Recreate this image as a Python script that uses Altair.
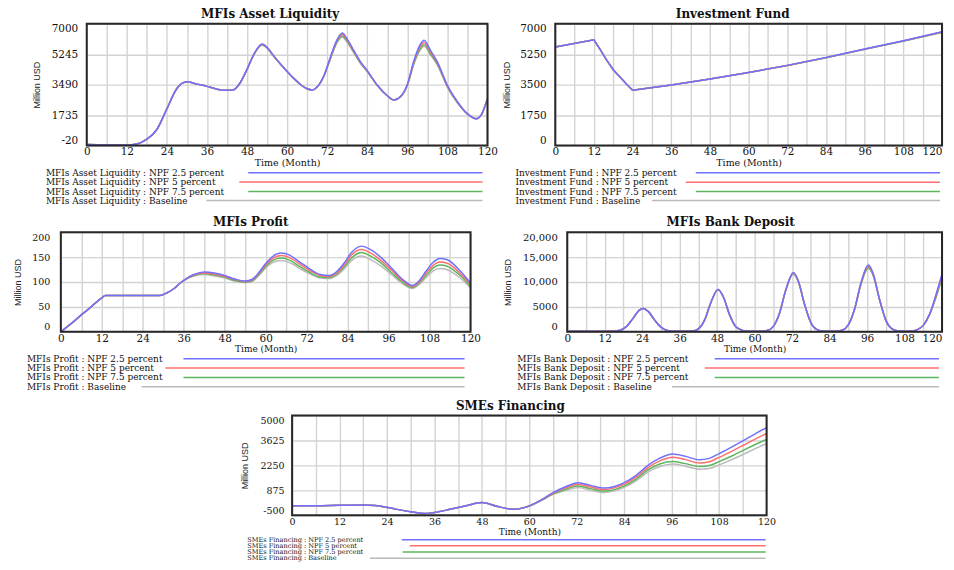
import altair as alt
import pandas as pd

SERIES = ["NPF 2.5 percent", "NPF 5 percent", "NPF 7.5 percent", "Baseline"]
COLORS = ["#7070ff", "#ff6e6e", "#5cb65c", "#bababa"]
SERIF = "DejaVu Serif"
NARROW = "Liberation Sans Narrow, Liberation Sans, sans-serif"
X_TICKS = list(range(0, 121, 6))

# ---------------- MFIs Asset Liquidity ----------------
liq_time = [0, 6, 12, 15, 18, 21, 24, 27, 30, 33, 36, 39, 42, 44, 46, 48, 50, 52.5, 54, 56,
            58, 60, 62, 64, 66, 67.5, 69, 71, 73, 75, 76.5, 78, 80, 82, 84, 87, 90, 92, 94, 96,
            98, 100, 101, 103, 105, 108, 111, 114, 116.7, 118, 120]
liq_npf25 = [30, 10, 0, 60, 340, 900, 2100, 3270, 3650, 3520, 3390, 3230, 3160, 3200, 3615, 4374, 5230, 5830, 5650, 5150,
             4680, 4250, 3850, 3500, 3250, 3180, 3350, 4000, 5100, 6100, 6470, 6120, 5450, 4800, 4300, 3450, 2850, 2600, 2800, 3500,
             4900, 5850, 6050, 5450, 4800, 3450, 2500, 1800, 1520, 1700, 2660]
liq_npf5 = [30, 10, 0, 60, 340, 900, 2100, 3270, 3650, 3520, 3390, 3230, 3160, 3200, 3615, 4374, 5220, 5810, 5630, 5140,
            4680, 4250, 3850, 3500, 3250, 3180, 3350, 3990, 5060, 6040, 6380, 6050, 5400, 4770, 4280, 3450, 2850, 2600, 2800, 3480,
            4820, 5730, 5920, 5350, 4730, 3410, 2480, 1800, 1520, 1700, 2660]
liq_npf75 = [30, 10, 0, 60, 340, 900, 2100, 3270, 3650, 3520, 3390, 3230, 3160, 3200, 3615, 4374, 5210, 5790, 5610, 5130,
             4680, 4250, 3850, 3500, 3250, 3180, 3350, 3980, 5020, 5980, 6300, 5990, 5360, 4740, 4260, 3450, 2850, 2600, 2800, 3460,
             4750, 5620, 5800, 5260, 4670, 3380, 2460, 1800, 1520, 1700, 2660]
liq_base = [30, 10, 0, 60, 340, 900, 2100, 3270, 3650, 3520, 3390, 3230, 3160, 3200, 3615, 4374, 5200, 5770, 5590, 5120,
            4680, 4250, 3850, 3500, 3250, 3180, 3350, 3970, 4990, 5930, 6230, 5930, 5320, 4710, 4240, 3450, 2850, 2600, 2800, 3440,
            4690, 5530, 5700, 5190, 4620, 3350, 2440, 1800, 1520, 1700, 2660]
liq_ticks = [-20, 1735, 3490, 5245, 7000]

# ---------------- Investment Fund ----------------
inv_time = [0, 12, 14, 16, 18, 20, 22, 24, 36, 48, 60, 72, 84, 96, 108, 120]
inv_npf25 = [5665, 6084, 5500, 4900, 4360, 3950, 3550, 3174, 3480, 3829, 4200, 4609, 5060, 5551, 6030, 6540]
inv_npf5 = [5665, 6084, 5500, 4900, 4360, 3950, 3550, 3174, 3480, 3829, 4200, 4605, 5055, 5545, 6020, 6525]
inv_npf75 = [5665, 6084, 5500, 4900, 4360, 3950, 3550, 3174, 3480, 3829, 4200, 4600, 5050, 5540, 6010, 6510]
inv_base = [5665, 6084, 5500, 4900, 4360, 3950, 3550, 3174, 3480, 3829, 4200, 4595, 5045, 5535, 6000, 6495]
inv_ticks = [0, 1750, 3500, 5250, 7000]

# ---------------- MFIs Profit ----------------
prof_time = [0, 2, 4, 6, 8, 10, 12, 13, 18, 24, 29, 31, 33, 35, 37, 39, 42, 45, 48, 51, 54, 56, 58, 60,
             62, 64.5, 67, 70, 73, 76, 78.5, 81, 83, 85, 88, 91, 94, 97, 100, 103, 105, 107, 109, 111,
             113, 115, 117, 120]
prof_npf25 = [0, 11, 22, 34, 45, 57, 68, 73, 73, 73, 73, 78, 86, 98, 108, 115, 120, 118, 113, 106, 102, 105, 119, 137,
              151, 158, 154, 140, 126, 115, 113, 122, 138, 158, 172, 164, 148, 127, 106, 93, 103, 122, 139, 147,
              145, 136, 122, 98]
prof_npf5 = [0, 11, 22, 34, 45, 57, 68, 73, 73, 73, 73, 78, 86, 98, 108, 114, 118, 116, 111, 105, 101, 104, 117, 134,
             147, 153, 149, 136, 123, 113, 111, 119, 134, 153, 165, 157, 142, 123, 103, 91, 100, 118, 133, 140,
             138, 130, 117, 95]
prof_npf75 = [0, 11, 22, 34, 45, 57, 68, 73, 73, 73, 73, 78, 86, 98, 107, 113, 117, 114, 110, 103, 100, 102, 115, 131,
              143, 148, 144, 131, 119, 110, 109, 117, 130, 147, 159, 151, 137, 118, 100, 89, 98, 113, 128, 134,
              132, 124, 113, 91]
prof_base = [0, 11, 22, 34, 45, 57, 68, 73, 73, 73, 73, 78, 86, 98, 107, 112, 115, 112, 108, 102, 99, 101, 113, 128,
             139, 143, 139, 127, 116, 108, 107, 114, 126, 142, 152, 144, 131, 114, 97, 87, 95, 109, 122, 127,
             125, 118, 108, 88]
prof_ticks = [0, 50, 100, 150, 200]

# ---------------- MFIs Bank Deposit ----------------
dep_time = [0, 10, 14, 17, 19, 21, 23, 24.3, 26, 28, 30, 32, 34, 38, 40, 42, 44, 46, 48.3, 50,
            52, 54, 56, 58, 60, 62, 64, 66, 68, 70, 72.4, 74, 76, 78, 80, 82, 84, 86, 88, 90,
            92, 94, 96.4, 98, 100, 102, 104, 106, 108, 110, 112, 114, 116, 118, 120]
dep_npf25 = [100, 100, 120, 350, 1100, 2650, 4300, 4700, 4050, 2350, 950, 300, 130, 100, 150, 600, 2400, 5900, 8500, 7000,
             3400, 1000, 300, 120, 100, 110, 250, 1100, 3800, 8450, 11900, 10200, 5500, 1850, 450, 150, 100, 120, 330, 1400,
             4550, 9700, 13400, 11600, 6500, 2350, 600, 180, 100, 150, 400, 1300, 3500, 7300, 11600]
dep_npf5 = [100, 100, 120, 350, 1100, 2650, 4300, 4700, 4050, 2350, 950, 300, 130, 100, 150, 600, 2400, 5900, 8500, 7000,
            3400, 1000, 300, 120, 100, 110, 250, 1100, 3800, 8450, 11800, 10150, 5500, 1850, 450, 150, 100, 120, 330, 1400,
            4550, 9650, 13150, 11450, 6500, 2350, 600, 180, 100, 150, 400, 1300, 3500, 7100, 11300]
dep_npf75 = [100, 100, 120, 350, 1100, 2650, 4300, 4700, 4050, 2350, 950, 300, 130, 100, 150, 600, 2400, 5900, 8500, 7000,
             3400, 1000, 300, 120, 100, 110, 250, 1100, 3800, 8400, 11650, 10100, 5500, 1850, 450, 150, 100, 120, 330, 1400,
             4550, 9500, 12850, 11300, 6500, 2350, 600, 180, 100, 150, 400, 1300, 3500, 6800, 10800]
dep_base = [100, 100, 120, 350, 1100, 2650, 4300, 4700, 4050, 2350, 950, 300, 130, 100, 150, 600, 2400, 5900, 8500, 7000,
            3400, 1000, 300, 120, 100, 110, 250, 1100, 3800, 8400, 11550, 10050, 5500, 1850, 450, 150, 100, 120, 330, 1400,
            4550, 9450, 12700, 11200, 6500, 2350, 600, 180, 100, 150, 400, 1300, 3500, 6900, 10900]
dep_ticks = [0, 5000, 10000, 15000, 20000]

# ---------------- SMEs Financing ----------------
sme_time = [0, 6, 12, 18, 21, 23.5, 26, 30, 33.5, 37, 40, 44, 48, 52, 56, 60, 63, 66, 69, 72.4,
            75.5, 79, 84, 87, 90, 93, 96.3, 99.5, 103, 105.5, 108, 111.5, 114, 117, 120]
sme_npf25 = [20, 25, 50, 70, 40, -40, -150, -310, -405, -310, -170, 20, 200, -20, -170, 20, 350, 750, 1060, 1300,
             1150, 1000, 1300, 1700, 2250, 2650, 2880, 2750, 2560, 2640, 2900, 3300, 3600, 3980, 4340]
sme_npf5 = [20, 25, 50, 70, 40, -40, -150, -310, -405, -310, -170, 20, 200, -20, -170, 17, 337, 717, 995, 1210,
            1060, 920, 1215, 1600, 2130, 2500, 2700, 2570, 2385, 2455, 2695, 3070, 3350, 3690, 4010]
sme_npf75 = [20, 25, 50, 70, 40, -40, -150, -310, -405, -310, -170, 20, 200, -20, -170, 13, 322, 680, 925, 1120,
             970, 835, 1125, 1500, 2000, 2330, 2460, 2350, 2190, 2240, 2460, 2800, 3070, 3390, 3680]
sme_base = [20, 25, 50, 70, 40, -40, -150, -310, -405, -310, -170, 20, 200, -20, -170, 10, 310, 650, 860, 1025,
            880, 760, 1040, 1400, 1880, 2190, 2330, 2210, 2040, 2080, 2280, 2600, 2850, 3160, 3460]
sme_ticks = [-500, 875, 2250, 3625, 5000]


def panel(name, time, values, ticks, w, h, cfg):
    x_axis_kw = dict(
        values=X_TICKS, format="d",
        labelExpr="datum.value % 12 === 0 ? datum.label : ''",
        grid=True, gridColor="#d3d3d3", gridWidth=1.4,
        domain=False, ticks=False, tickSize=0,
        labelPadding=cfg["xpad"], labelFont=SERIF, labelFontSize=cfg["xfs"],
        labelColor="#111", labelOverlap=False, labelFlush=False,
        title="Time (Month)", titleFont=SERIF, titleFontSize=cfg["xtfs"],
        titleFontWeight="normal", titleColor="#111",
        titleBaseline="middle", titleY=cfg["xty"],
    )
    if cfg.get("lastright"):
        x_axis_kw["labelAlign"] = {"condition": {"test": "datum.value === 120", "value": "right"},
                                   "value": "center"}
    x_enc = alt.X(
        "t:Q",
        scale=alt.Scale(domain=[0, 120], nice=False, zero=False),
        axis=alt.Axis(**x_axis_kw),
    )
    y_axis_kw = dict(
        values=ticks, grid=True, gridColor="#d3d3d3", gridWidth=1.4,
        domain=False, ticks=False, tickSize=0,
        labelPadding=cfg["ypad"], labelFont=SERIF, labelFontSize=cfg["yfs"],
        labelColor="#111", labelFlush=True, labelOverlap=False,
        labelExpr=cfg.get("yexpr", "'' + datum.value"),
        title="Million USD", titleFont=NARROW, titleFontSize=9,
        titleFontWeight="normal", titleColor="#222", titleAngle=270,
        titleAlign="center", titleBaseline="middle",
        titleX=cfg["ytx"], titleY=h / 2,
    )
    y_enc = alt.Y(
        "v:Q",
        scale=alt.Scale(domain=[ticks[0], ticks[-1]], nice=False, zero=False),
        axis=alt.Axis(**y_axis_kw),
    )

    layers = []
    for i in [3, 2, 1, 0]:
        df = pd.DataFrame({"t": time, "v": values[i]})
        layers.append(
            alt.Chart(df).mark_line(color=COLORS[i], strokeWidth=1.5, interpolate=cfg["interp"])
            .encode(x=x_enc, y=y_enc)
        )

    frame = alt.Chart(pd.DataFrame({"k": [0]})).mark_rect(
        fill="transparent", stroke="#272727", strokeWidth=2
    ).encode(x=alt.value(0), x2=alt.value(w), y=alt.value(0), y2=alt.value(h))

    legend = []
    for i, s in enumerate(SERIES):
        yy = h + cfg["rows"][i]
        label = pd.DataFrame({"label": [f"{name} : {s}"]})
        legend.append(
            alt.Chart(label).mark_text(
                align="left", baseline="middle", font=SERIF, fontSize=cfg["lfs"], color="#111"
            ).encode(text="label:N", x=alt.value(cfg["lx"]), y=alt.value(yy))
        )
        legend.append(
            alt.Chart(label).mark_rule(color=COLORS[i], strokeWidth=1.5)
            .encode(x=alt.value(cfg["starts"][i]), x2=alt.value(cfg["end"]), y=alt.value(yy))
        )

    return alt.layer(*layers, frame, *legend).properties(
        width=w, height=h,
        title=alt.TitleParams(
            text=name, font=SERIF, fontSize=12, fontWeight="bold", color="#111",
            anchor="middle", frame="group", dx=cfg["tdx"], offset=2,
        ),
    )


def spacer(w):
    return alt.Chart(pd.DataFrame({"k": [0]})).mark_text(text="").encode(
        x=alt.value(0), y=alt.value(0)
    ).properties(width=w, height=1,
                 view=alt.ViewBackground(strokeOpacity=0, strokeWidth=0, fillOpacity=0))


p1 = panel("MFIs Asset Liquidity", liq_time, [liq_npf25, liq_npf5, liq_npf75, liq_base], liq_ticks, 402, 122,
           dict(xpad=1.5, xfs=10.5, xtfs=9.5, xty=17, ypad=9, yfs=10.5, ytx=-50, interp="monotone",
                rows=[27.3, 36.7, 46.3, 55.3], lx=-41, starts=[162, 153, 162, 120], end=397, lfs=9, tdx=-17))
p2 = panel("Investment Fund", inv_time, [inv_npf25, inv_npf5, inv_npf75, inv_base], inv_ticks, 388, 122,
           dict(xpad=1.5, xfs=10.5, xtfs=9.5, xty=17, ypad=9, yfs=10.5, ytx=-49, interp="linear", lastright=True,
                rows=[27.3, 37, 46.3, 55.3], lx=-40, starts=[141, 131, 141, 97], end=386, lfs=9, tdx=-16))
p3 = panel("MFIs Profit", prof_time, [prof_npf25, prof_npf5, prof_npf75, prof_base], prof_ticks, 411, 100,
           dict(xpad=1.5, xfs=10.5, xtfs=9, xty=17, ypad=11, yfs=9.5, ytx=-43, interp="monotone",
                rows=[27, 36.3, 45.7, 55], lx=-34, starts=[123, 105, 123, 81], end=405, lfs=9, tdx=-15))
p4 = panel("MFIs Bank Deposit", dep_time, [dep_npf25, dep_npf5, dep_npf75, dep_base], dep_ticks, 376, 100,
           dict(xpad=1.5, xfs=10.5, xtfs=9, xty=17, ypad=10, yfs=10, ytx=-60, interp="monotone", lastright=True,
                yexpr="datum.value >= 10000 ? format(datum.value, ',d') : '' + datum.value",
                rows=[27, 36.3, 45.7, 55], lx=-50, starts=[148, 138, 148, 105], end=373, lfs=9, tdx=-24))
p5 = panel("SMEs Financing", sme_time, [sme_npf25, sme_npf5, sme_npf75, sme_base], sme_ticks, 476, 100,
           dict(xpad=1.5, xfs=9.5, xtfs=9, xty=16.5, ypad=8, yfs=9.5, ytx=-48, interp="monotone",
                rows=[24.5, 30.7, 36.9, 43.1], lx=-45, starts=[110, 118, 111, 78], end=475, lfs=6.6, tdx=-19))

row1 = alt.hconcat(spacer(26), alt.hconcat(p1, p2, spacing=68, bounds="flush"), spacing=0, bounds="flush")
row2 = alt.hconcat(p3, p4, spacing=97, bounds="flush")
row3 = alt.hconcat(spacer(232), p5, spacing=0, bounds="flush")

# rows are placed by their plot tops (flush bounds): 24 -> 233 -> 417
lower = alt.vconcat(row2, row3, spacing=184, bounds="flush")
chart = alt.vconcat(row1, lower, spacing=209, bounds="flush").properties(
    padding={"left": 5, "top": -2, "right": 0, "bottom": -2}
).configure_view(strokeOpacity=0).configure(background="white")

chart.save("out.html", embed_options={"renderer": "svg", "actions": False})
